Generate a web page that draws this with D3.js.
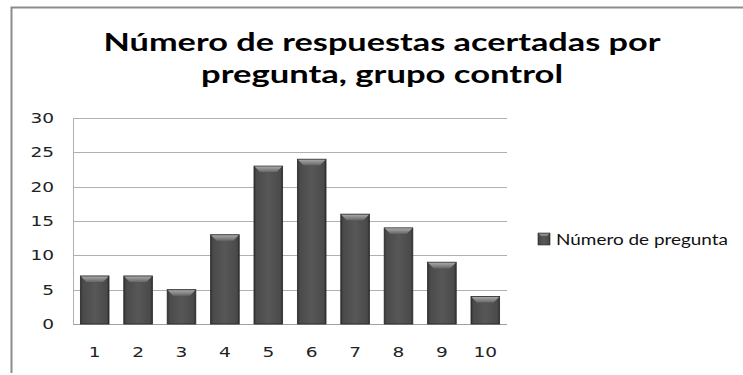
<!DOCTYPE html>
<html>
<head>
<meta charset="utf-8">
<script src="https://cdn.jsdelivr.net/npm/d3@7/dist/d3.min.js"></script>
<style>
  html, body { margin: 0; padding: 0; background: #fff; }
  svg { display: block; }
</style>
</head>
<body>
<svg id="chart" width="743" height="375"></svg>
<script>
// Chart content
const titleLines = ["Número de respuestas acertadas por", "pregunta, grupo control"];
const categories = ["1", "2", "3", "4", "5", "6", "7", "8", "9", "10"];
const values = [7, 7, 5, 13, 23, 24, 16, 14, 9, 4];
const yTicks = [0, 5, 10, 15, 20, 25, 30];
const seriesName = "Número de pregunta";

const svg = d3.select("#chart");
const W = 743, H = 375;
const plot = { left: 73, right: 507, top: 118, bottom: 324 };

// Outer chart frame (top and left edges visible)
svg.append("path")
  .attr("d", `M11.5,${H - 2} L11.5,7.5 L${W},7.5`)
  .attr("fill", "none")
  .attr("stroke", "#8c8c8c")
  .attr("stroke-width", 2);

// Title, two wide bold lines
const titleLayout = [{ y: 51, len: 557 }, { y: 83, len: 362 }];
svg.append("g").selectAll("text")
  .data(titleLines)
  .join("text")
  .attr("x", 382)
  .attr("y", (d, i) => titleLayout[i].y)
  .attr("text-anchor", "middle")
  .attr("font-family", "Lato, 'Open Sans', sans-serif")
  .attr("font-weight", "bold")
  .attr("font-size", 25)
  .attr("fill", "#000")
  .attr("textLength", (d, i) => titleLayout[i].len)
  .attr("lengthAdjust", "spacingAndGlyphs")
  .text(d => d);

// Scales
const x = d3.scaleBand().domain(categories).range([plot.left, plot.right]).paddingInner(0.34).paddingOuter(0.17);
const y = d3.scaleLinear().domain([0, 30]).range([plot.bottom, plot.top]);

// Gradients for the bevelled bars
const defs = svg.append("defs");
const body = defs.append("linearGradient").attr("id", "barBody").attr("x1", 0).attr("x2", 1).attr("y1", 0).attr("y2", 0);
[["0%", "#2e2e2e"], ["8%", "#4a4a4a"], ["50%", "#575757"], ["92%", "#4a4a4a"], ["100%", "#2e2e2e"]]
  .forEach(([o, c]) => body.append("stop").attr("offset", o).attr("stop-color", c));
const bevel = defs.append("linearGradient").attr("id", "barTop").attr("x1", 0).attr("x2", 0).attr("y1", 0).attr("y2", 1);
[["0%", "#a8a8a8"], ["100%", "#686868"]]
  .forEach(([o, c]) => bevel.append("stop").attr("offset", o).attr("stop-color", c));

// Gridlines
svg.append("g")
  .selectAll("line")
  .data(yTicks.filter(d => d > 0))
  .join("line")
  .attr("x1", plot.left).attr("x2", plot.right)
  .attr("y1", d => Math.round(y(d)) + 0.5).attr("y2", d => Math.round(y(d)) + 0.5)
  .attr("stroke", "#b0b0b0").attr("stroke-width", 1);

// Plot area left edge and baseline
svg.append("line")
  .attr("x1", plot.left + 0.5).attr("x2", plot.left + 0.5)
  .attr("y1", plot.top).attr("y2", plot.bottom)
  .attr("stroke", "#b0b0b0");
svg.append("line")
  .attr("x1", plot.left).attr("x2", plot.right)
  .attr("y1", plot.bottom + 0.5).attr("y2", plot.bottom + 0.5)
  .attr("stroke", "#a0a0a0");

// Tick labels are drawn slightly widened
const styleTicks = g => g.selectAll("text")
  .style("font-family", "'DejaVu Sans', Verdana, sans-serif")
  .style("font-size", "14.5px")
  .attr("fill", "#222")
  .attr("transform", "scale(1.28,1)");

// Y axis labels
const yAxis = d3.axisLeft(y).tickValues(yTicks).tickSize(0).tickPadding(0);
svg.append("g")
  .attr("transform", `translate(54,0)`)
  .call(yAxis)
  .call(g => g.select(".domain").remove())
  .call(styleTicks);

// X axis labels
const xAxis = d3.axisBottom(x).tickSize(0).tickPadding(0);
svg.append("g")
  .attr("transform", `translate(0,346.5)`)
  .call(xAxis)
  .call(g => g.select(".domain").remove())
  .call(styleTicks);

// Bars
const bars = svg.append("g").selectAll("g").data(values).join("g");
bars.append("rect")
  .attr("x", (d, i) => x(categories[i]))
  .attr("y", d => y(d))
  .attr("width", x.bandwidth())
  .attr("height", d => y(0) - y(d))
  .attr("fill", "url(#barBody)")
  .attr("stroke", "#2a2a2a")
  .attr("stroke-width", 0.8);
bars.append("path")
  .attr("d", (d, i) => {
    const x0 = x(categories[i]), w = x.bandwidth(), t = y(d), b = 6;
    return `M${x0 + 0.5},${t + 0.5} L${x0 + w - 0.5},${t + 0.5} L${x0 + w - b},${t + b} L${x0 + b},${t + b} Z`;
  })
  .attr("fill", "url(#barTop)");

// Legend
const legend = svg.append("g").attr("transform", "translate(538,233)");
legend.append("rect").attr("width", 12).attr("height", 12)
  .attr("fill", "url(#barBody)").attr("stroke", "#2a2a2a").attr("stroke-width", 0.6);
legend.append("path").attr("d", "M0.5,0.5 L11.5,0.5 L9,3 L3,3 Z").attr("fill", "#888");
legend.append("text")
  .attr("x", 18).attr("y", 11.5)
  .attr("font-family", "Lato, 'Open Sans', sans-serif")
  .attr("font-size", 15.5)
  .attr("fill", "#111")
  .attr("textLength", 172)
  .attr("lengthAdjust", "spacingAndGlyphs")
  .text(seriesName);
</script>
</body>
</html>
